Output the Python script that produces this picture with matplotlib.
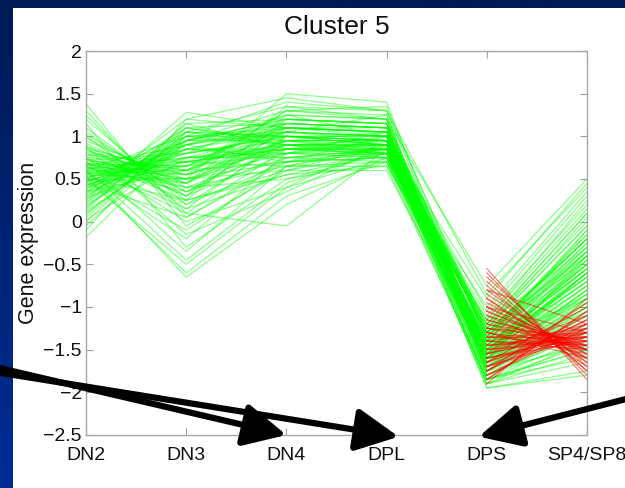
import numpy as np
import matplotlib.pyplot as plt
from matplotlib.patches import Rectangle

plt.rcParams['font.family'] = ['Liberation Sans', 'DejaVu Sans']

stages = ['DN2', 'DN3', 'DN4', 'DPL', 'DPS', 'SP4/SP8']
ytick_values = [-2.5, -2, -1.5, -1, -0.5, 0, 0.5, 1, 1.5, 2]
ytick_labels = ['\u22122.5', '\u22122', '\u22121.5', '\u22121', '\u22120.5', '0', '0.5', '1', '1.5', '2']

# green profiles, one value per gene at each stage
green_dn2 = [1.38, 1.25, 1.10, 1.02, 0.95, 0.90, 0.86, 0.82, 0.80, 0.78,
             0.75, 0.72, 0.70, 0.68, 0.67, 0.65, 0.64, 0.62, 0.60, 0.60,
             0.58, 0.57, 0.55, 0.54, 0.52, 0.50, 0.49, 0.47, 0.45, 0.44,
             0.42, 0.40, 0.38, 0.35, 0.33, 0.30, 0.28, 0.25, 0.22, 0.20,
             0.16, 0.12, 0.08, 0.02, -0.05, -0.18, 1.15, 0.88, 0.75, 0.62,
             0.66, 0.58, 0.52, 0.45, 0.70, 0.55, 0.85, 1.00, 0.35, 0.60,
             1.30, 1.20, 1.05, 0.98, 0.92, 0.88, 0.84, 0.80, 0.76, 0.73,
             0.71, 0.69, 0.66, 0.63, 0.61, 0.59, 0.56, 0.53, 0.51, 0.48,
             0.46, 0.43, 0.41, 0.39, 0.36, 0.32, 0.29, 0.26, 0.23, 0.18,
             0.14, 0.10, 0.05, 0.00, -0.10, 0.74, 0.64, 0.57, 0.50, 0.68]
green_dn3 = [-0.05, 0.10, 0.25, 0.35, 0.45, 0.20, 0.55, 0.60, 0.30, 0.70,
             0.40, 0.80, 0.15, 0.65, 0.50, 0.90, 0.35, 0.75, 0.55, 1.00,
             0.45, 0.60, 0.85, -0.60, 0.70, 0.95, 0.50, 0.80, 1.05, 0.65,
             0.90, 0.75, 1.10, 0.85, 1.20, 0.95, 0.70, 1.28, 1.00, 0.85,
             1.15, 0.90, 1.05, 0.75, 1.00, 0.95, -0.30, -0.15, 0.00, -0.45,
             0.10, -0.20, 0.25, 0.05, -0.35, 0.50, 0.30, 0.15, 0.60, -0.65,
             0.05, 0.20, 0.30, 0.40, 0.35, 0.50, 0.45, 0.55, 0.60, 0.50,
             0.65, 0.55, 0.70, 0.60, 0.75, 0.65, 0.80, 0.70, 0.85, 0.75,
             0.90, 0.80, 0.95, 0.85, 1.00, 0.90, 1.05, 0.95, 1.10, 1.00,
             1.15, 0.95, 1.05, 1.10, 1.20, 0.25, 0.40, -0.10, -0.50, 0.45]
green_dn4 = [0.60, 0.85, 1.20, 0.90, 1.05, 0.70, 1.30, 0.95, 0.80, 1.10,
             0.65, 1.00, 0.55, 1.15, 0.90, 1.25, 0.75, 1.05, 0.85, 1.40,
             0.95, 0.70, 1.10, 0.30, 0.85, 1.20, 0.60, 1.00, 1.35, 0.80,
             1.05, 0.90, 1.15, 0.75, 1.45, 1.00, 0.65, 1.10, 0.90, 0.80,
             1.20, 0.70, 1.00, 0.85, 1.10, 0.95, 0.50, 0.35, 0.40, 0.45,
             -0.05, 0.80, 0.55, 0.70, 0.65, 1.50, 1.25, 1.00, 1.30, 0.20,
             0.75, 0.95, 1.10, 0.85, 1.00, 0.80, 1.15, 0.90, 1.05, 0.70,
             1.20, 0.95, 0.85, 1.10, 0.75, 1.00, 1.25, 0.90, 1.05, 0.80,
             1.15, 0.95, 1.30, 0.85, 1.00, 1.10, 0.90, 1.20, 0.95, 1.05,
             0.85, 1.15, 1.00, 0.90, 1.10, 0.60, 0.50, 0.65, 0.40, 1.35]
green_dpl = [0.90, 1.00, 1.15, 0.75, 0.95, 0.85, 1.20, 0.80, 0.95, 1.05,
             0.70, 0.90, 0.65, 1.10, 0.90, 1.00, 0.85, 1.25, 0.80, 1.30,
             0.95, 0.75, 1.05, 0.70, 0.90, 1.15, 0.60, 0.95, 1.20, 0.85,
             1.00, 0.80, 1.10, 0.70, 1.30, 0.90, 0.65, 1.05, 0.95, 0.75,
             1.15, 0.80, 1.00, 0.90, 1.10, 0.85, 0.80, 0.90, 0.95, 0.85,
             0.85, 1.05, 0.80, 1.00, 0.90, 1.40, 1.20, 0.90, 1.35, 0.75,
             0.85, 1.05, 1.00, 0.80, 0.95, 0.90, 1.10, 0.85, 1.00, 0.75,
             1.15, 0.90, 0.85, 1.05, 0.80, 0.95, 1.20, 0.90, 1.00, 0.80,
             1.10, 0.95, 1.25, 0.85, 1.00, 1.05, 0.90, 1.15, 0.95, 1.00,
             0.85, 1.10, 0.95, 0.90, 1.05, 0.80, 0.70, 0.85, 0.75, 1.30]
green_dps = [-1.60, -1.30, -1.70, -1.20, -1.90, -1.45, -1.55, -1.00, -1.75, -1.35,
             -1.60, -1.25, -1.85, -1.50, -1.40, -1.65, -1.10, -1.80, -1.45, -1.55,
             -0.90, -1.70, -1.35, -1.50, -1.95, -1.30, -1.60, -1.20, -1.75, -1.40,
             -1.05, -1.65, -1.50, -1.85, -1.30, -1.55, -1.15, -1.70, -1.45, -1.90,
             -1.35, -1.60, -1.25, -1.80, -1.50, -1.40, -1.65, -1.55, -1.75, -1.45,
             -1.60, -1.20, -1.85, -1.50, -1.30, -1.65, -0.75, -1.95, -1.40, -1.55,
             -1.50, -1.35, -1.70, -1.25, -1.80, -1.45, -1.60, -1.15, -1.75, -1.40,
             -1.55, -1.30, -1.85, -1.50, -1.65, -1.20, -1.70, -1.45, -1.90, -1.35,
             -1.60, -1.25, -1.75, -1.50, -1.40, -1.65, -1.30, -1.80, -1.55, -1.45,
             -1.70, -1.35, -1.60, -1.50, -1.85, -1.40, -1.55, -1.65, -1.45, -0.85]
green_sp = [-0.60, -0.20, -0.90, 0.10, -1.40, -0.35, -0.75, 0.35, -1.10, -0.50,
            -0.40, -0.05, -1.60, -0.85, -0.30, -1.00, 0.20, -1.30, -0.65, -0.55,
            0.45, -1.20, -0.15, -0.70, -1.75, -0.45, -0.95, 0.00, -1.45, -0.25,
            0.30, -0.80, -0.60, -1.35, -0.35, -0.90, 0.15, -1.15, -0.50, -1.55,
            -0.20, -1.05, -0.40, -1.25, -0.70, -0.10, -0.85, -0.45, -1.00, -0.55,
            -0.75, -0.30, -1.50, -0.65, -0.20, -1.10, 0.50, -1.80, -0.90, -0.60,
            -0.40, -0.10, -0.95, 0.05, -1.30, -0.55, -0.80, 0.25, -1.20, -0.35,
            -0.70, -0.15, -1.50, -0.60, -1.00, 0.10, -1.10, -0.45, -1.65, -0.30,
            -0.85, -0.05, -1.25, -0.50, -0.40, -0.95, -0.20, -1.40, -0.75, -0.55,
            -1.05, -0.25, -0.90, -0.65, -1.45, -0.35, -0.60, -0.80, -0.50, 0.40]

# red profiles, only shown between DPS and SP4/SP8
red_dps = [-0.55, -0.65, -0.75, -0.85, -0.90, -1.00, -1.05, -1.10, -1.15, -1.20,
           -1.25, -1.30, -1.35, -1.40, -1.45, -1.50, -1.55, -1.60, -1.65, -1.70,
           -1.75, -1.80, -1.85, -1.90, -1.00, -1.30, -1.60, -0.80, -1.40, -1.70,
           -0.60, -0.70, -0.80, -0.95, -1.05, -1.15, -1.25, -1.35, -1.45, -1.55,
           -1.65, -1.75, -1.85, -1.20, -1.50, -1.10, -1.40, -1.70, -0.90, -1.30,
           -1.60, -1.80, -1.00, -1.45, -1.55, -1.25, -1.65, -1.35, -1.75, -1.50]
red_sp = [-1.85, -1.70, -1.75, -1.60, -1.65, -1.50, -1.55, -1.45, -1.50, -1.40,
          -1.35, -1.45, -1.30, -1.25, -1.35, -1.20, -1.10, -1.30, -1.00, -1.15,
          -0.95, -1.25, -1.05, -0.90, -1.30, -1.60, -1.40, -1.20, -1.50, -1.35,
          -1.80, -1.75, -1.65, -1.55, -1.50, -1.45, -1.40, -1.35, -1.30, -1.25,
          -1.20, -1.15, -1.05, -1.50, -1.40, -1.60, -1.45, -1.30, -1.70, -1.55,
          -1.35, -1.20, -1.60, -1.40, -1.30, -1.50, -1.25, -1.45, -1.10, -1.35]

fig = plt.figure(figsize=(6.25, 4.88), dpi=100)

# slide background: blue gradient with a white panel
bg = fig.add_axes([0, 0, 1, 1], zorder=-2)
top = np.array([0x00, 0x1a, 0x55]) / 255
bottom = np.array([0x00, 0x2c, 0x94]) / 255
t = np.linspace(0, 1, 256)[:, None, None]
bg.imshow(top + (bottom - top) * t, aspect='auto', extent=[0, 1, 0, 1])
bg.add_patch(Rectangle((13 / 625, 0), 1, 480 / 488, facecolor='white', edgecolor='none'))
bg.set_xlim(0, 1)
bg.set_ylim(0, 1)
bg.axis('off')

ax = fig.add_axes([86 / 625, 53 / 488, 501 / 625, 384 / 488])
x = np.arange(1, len(stages) + 1)

for i in range(len(green_dn2)):
    ax.plot(x, [green_dn2[i], green_dn3[i], green_dn4[i], green_dpl[i], green_dps[i], green_sp[i]],
            color=(0, 1, 0), alpha=0.45, lw=0.9)
for i in range(len(red_dps)):
    ax.plot(x[4:], [red_dps[i], red_sp[i]], color=(1, 0, 0), alpha=0.5, lw=0.9)

ax.set_xlim(1, 6)
ax.set_ylim(-2.5, 2)
ax.set_xticks(x)
ax.set_xticklabels(stages)
ax.set_yticks(ytick_values)
ax.set_yticklabels(ytick_labels)
ax.tick_params(direction='in', length=5, width=0.8, color='#a0a0a0', labelsize=14,
               top=True, right=True, labelcolor='#111111')
ax.tick_params(axis='x', pad=9)
ax.tick_params(axis='y', pad=3)
for s in ax.spines.values():
    s.set_color('#a8a8a8')
    s.set_linewidth(1.0)
ax.set_title('Cluster 5', fontsize=19, pad=12, color='#111111')
ax.set_ylabel('Gene expression', fontsize=15.5, color='#111111')
ax.yaxis.set_label_coords(-0.094, 0.5)

# black arrows pointing at stage labels
arrow_style = dict(arrowstyle='-|>,head_length=1.3,head_width=0.65', color='black',
                   lw=4.5, mutation_scale=20, shrinkA=0, shrinkB=0)
ax.annotate('', xy=(3, -2.5), xycoords='data', xytext=(-5, 121), textcoords='figure pixels',
            arrowprops=arrow_style, annotation_clip=False)
ax.annotate('', xy=(4.12, -2.52), xycoords='data', xytext=(-5, 116), textcoords='figure pixels',
            arrowprops=arrow_style, annotation_clip=False)
ax.annotate('', xy=(4.92, -2.52), xycoords='data', xytext=(630, 90), textcoords='figure pixels',
            arrowprops=arrow_style, annotation_clip=False)

fig.savefig('out.png', dpi=100)
